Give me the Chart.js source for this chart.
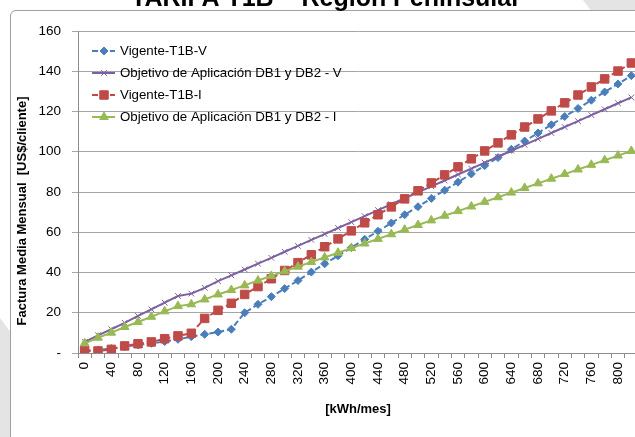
<!DOCTYPE html>
<html>
<head>
<meta charset="utf-8">
<script src="https://cdn.jsdelivr.net/npm/chart.js@4.4.1/dist/chart.umd.min.js"></script>
<style>
html, body { margin: 0; padding: 0; width: 635px; height: 437px; overflow: hidden; background: #fff; }
.band { position: absolute; left: 0; top: 0; width: 635px; height: 437px; background: #e4e4e4; }
#bandTop { clip-path: polygon(583px 0, 635px 0, 635px 12px, 592px 12px); }
#bandLeft { clip-path: polygon(0 318px, 12px 334px, 12px 437px, 0 437px); }
#box { position: absolute; left: 10px; top: 10px; width: 700px; height: 500px; border: 1px solid #a0a0a0; border-radius: 6px; background: #fff; }
#wrap { position: absolute; left: 0; top: 0; width: 660px; height: 437px; }
</style>
</head>
<body>
<div class="band" id="bandTop"></div>
<div class="band" id="bandLeft"></div>
<div id="box"></div>
<div id="wrap"><canvas id="chart"></canvas></div>
<script>
const title = 'TARIFA T1B – Región Peninsular';
const yTitle = 'Factura Media Mensual  [US$/cliente]';
const xTitle = '[kWh/mes]';

const categories = [0, 20, 40, 60, 80, 100, 120, 140, 160, 180, 200, 220, 240, 260, 280, 300, 320, 340, 360, 380,
  400, 420, 440, 460, 480, 500, 520, 540, 560, 580, 600, 620, 640, 660, 680, 700, 720, 740, 760, 780, 800, 820];

const vigenteV = [1.0, 1.5, 2.2, 3.2, 4.0, 4.8, 5.7, 6.8, 8.1, 9.3, 10.4, 11.8, 20.0, 24.2, 28.0, 32.0, 36.0, 40.2, 44.3, 48.3,
  52.4, 56.5, 60.5, 64.6, 68.7, 72.7, 76.8, 80.9, 84.9, 89.0, 93.1, 97.1, 101.2, 105.3, 109.3, 113.4, 117.5, 121.5, 125.6, 129.7, 133.7, 137.8];

const objetivoV = [5.5, 8.8, 11.8, 15.0, 18.4, 21.7, 25.0, 28.3, 29.5, 32.4, 35.7, 38.6, 41.5, 44.4, 47.3, 50.3, 53.2, 56.2, 59.1, 62.1,
  65.0, 68.0, 71.0, 73.9, 76.9, 79.8, 82.8, 85.7, 88.7, 91.6, 94.6, 97.5, 100.5, 103.4, 106.4, 109.3, 112.3, 115.2, 118.2, 121.1, 124.1, 127.0];

const vigenteI = [1.3, 1.0, 1.8, 3.5, 4.6, 5.5, 7.1, 8.5, 9.8, 17.2, 21.2, 24.7, 29.1, 33.0, 36.9, 41.0, 44.9, 48.8, 52.8, 56.7,
  60.7, 64.7, 68.7, 72.6, 76.6, 80.6, 84.5, 88.5, 92.5, 96.5, 100.4, 104.4, 108.4, 112.3, 116.3, 120.3, 124.3, 128.2, 132.2, 136.2, 140.1, 144.1];

const objetivoI = [4.8, 7.6, 10.1, 12.9, 15.4, 18.0, 20.7, 23.3, 24.2, 26.6, 29.1, 31.3, 33.6, 36.0, 38.3, 40.6, 42.9, 45.2, 47.5, 49.8,
  52.1, 54.4, 56.7, 59.0, 61.3, 63.6, 65.9, 68.2, 70.5, 72.8, 75.1, 77.4, 79.7, 82.0, 84.3, 86.6, 88.9, 91.2, 93.5, 95.8, 98.1, 100.4];

const seriesNames = ['Vigente-T1B-V', 'Objetivo de Aplicación DB1 y DB2 - V', 'Vigente-T1B-I', 'Objetivo de Aplicación DB1 y DB2 - I'];

const FONT = '"Liberation Sans", Arial, sans-serif';

// title, y title and legend drawn by hand, the legend sits inside the plot
const extras = {
  id: 'extras',
  afterDraw(chart) {
    const ctx = chart.ctx;
    ctx.save();
    ctx.fillStyle = '#000';
    ctx.font = 'bold 25px ' + FONT;
    ctx.textAlign = 'center';
    ctx.textBaseline = 'alphabetic';
    ctx.fillText(title, 326, 6);

    ctx.font = 'bold 13px ' + FONT;
    ctx.translate(22, 211);
    ctx.rotate(-Math.PI / 2);
    ctx.textBaseline = 'middle';
    ctx.fillText(yTitle, 0, 0);
    ctx.restore();

    chart.data.datasets.forEach((ds, i) => {
      const y = 51 + i * 22;
      ctx.save();
      ctx.strokeStyle = ds.borderColor;
      ctx.lineWidth = ds.borderWidth;
      ctx.setLineDash(ds.borderDash || []);
      ctx.beginPath();
      ctx.moveTo(92, y);
      ctx.lineTo(115, y);
      ctx.stroke();
      ctx.setLineDash([]);
      ctx.fillStyle = ds.pointBackgroundColor;
      ctx.strokeStyle = ds.pointBorderColor;
      ctx.lineWidth = 1;
      Chart.helpers.drawPoint(ctx, { pointStyle: ds.pointStyle, radius: ds.pointRadius, rotation: 0, borderWidth: 1 }, 104, y);
      ctx.fillStyle = '#000';
      ctx.font = '13.3px ' + FONT;
      ctx.textAlign = 'left';
      ctx.textBaseline = 'middle';
      ctx.fillText(ds.label, 120, y);
      ctx.restore();
    });
  }
};

function series(label, data, color, dash, style, radius, order) {
  return {
    label: label,
    data: data,
    borderColor: color,
    backgroundColor: color,
    pointBackgroundColor: color,
    pointBorderColor: color,
    borderWidth: 2,
    borderDash: dash,
    pointStyle: style,
    pointRadius: radius,
    pointBorderWidth: 1,
    tension: 0,
    order: order
  };
}

new Chart(document.getElementById('chart'), {
  type: 'line',
  data: {
    labels: categories.map(String),
    datasets: [
      series(seriesNames[0], vigenteV, '#4a7ebb', [6, 3], 'rectRot', 4, 3),
      series(seriesNames[1], objetivoV, '#7d60a0', [], 'crossRot', 4, 2),
      series(seriesNames[2], vigenteI, '#be4b48', [6, 3], 'rect', 6, 1),
      series(seriesNames[3], objetivoI, '#98b954', [], 'triangle', 5, 0)
    ]
  },
  options: {
    responsive: true,
    maintainAspectRatio: false,
    animation: false,
    layout: { padding: { left: 0, top: 31, right: 22, bottom: 0 } },
    plugins: {
      legend: { display: false },
      tooltip: { enabled: false }
    },
    scales: {
      x: {
        type: 'category',
        offset: true,
        grid: { display: true, drawOnChartArea: false, drawTicks: true, tickLength: 5, offset: true, color: '#8c8c8c' },
        border: { color: '#8c8c8c' },
        ticks: {
          autoSkip: false,
          maxRotation: 90,
          minRotation: 90,
          padding: 4,
          color: '#000',
          font: { family: FONT, size: 13.5 },
          callback: (v, i) => (i % 2 ? '' : categories[i])
        },
        title: { display: true, text: xTitle, color: '#000', font: { family: FONT, size: 13, weight: 'bold' }, padding: { top: 0, bottom: 20 } },
        afterFit: s => { s.height = 84; }
      },
      y: {
        min: 0,
        max: 160,
        grid: { color: '#a6a6a6', tickLength: 6 },
        border: { color: '#8c8c8c' },
        ticks: {
          stepSize: 20,
          padding: 11,
          color: '#000',
          font: { family: FONT, size: 13.5 },
          callback: v => (v === 0 ? '-' : v)
        },
        afterFit: s => { s.width = 78; }
      }
    }
  },
  plugins: [extras]
});
</script>
</body>
</html>
